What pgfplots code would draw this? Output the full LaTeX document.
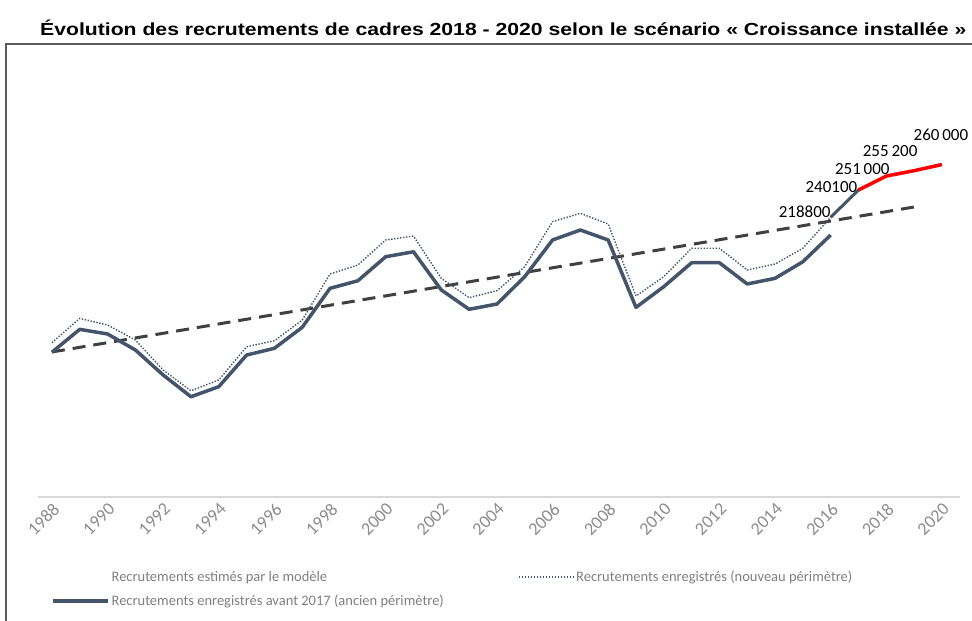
\documentclass[border=0pt]{standalone}
\usepackage{fontspec}
\setmainfont{Carlito}
\newfontfamily\titlefont{Liberation Sans}[FakeStretch=1.21]
\usepackage{pgfplots}
\pgfplotsset{compat=1.18}
\definecolor{slate}{HTML}{44546A}
\definecolor{tickgray}{HTML}{8C8C8C}
\definecolor{leggray}{HTML}{7F7F7F}
\definecolor{dashgray}{HTML}{404040}
\definecolor{framegray}{HTML}{595959}
\definecolor{axgray}{HTML}{D9D9D9}

\pgfplotstableread{
year ancien nouveau
1988 113200 120700
1989 131100 139700
1990 127500 134500
1991 115000 122800
1992 95400 99300
1993 78400 83100
1994 86300 91500
1995 111000 117500
1996 116300 122200
1997 132700 138400
1998 163200 174400
1999 169100 181400
2000 187900 201000
2001 191800 204100
2002 161900 171000
2003 146800 155900
2004 150900 161300
2005 172300 180100
2006 201000 215300
2007 208800 221900
2008 201000 213500
2009 148300 157200
2010 164500 172300
2011 183200 194500
2012 183200 194500
2013 166600 177500
2014 171000 182200
2015 184000 194500
2016 204900 218800
}\histdata

\begin{document}
\begin{tikzpicture}
\path[use as bounding box] (0,0) rectangle (972bp,621bp);
\draw[framegray, line width=1.5bp] (6bp,-2bp) -- (6bp,577bp) -- (980bp,577bp);
\node[anchor=west, inner sep=0, font=\titlefont\bfseries\fontsize{17.5bp}{20bp}\selectfont] at (40bp,593bp) {Évolution des recrutements de cadres 2018 - 2020 selon le scénario « Croissance installée »};
\begin{axis}[
  at={(38bp,124bp)}, anchor=south west, scale only axis,
  width=922bp, height=383.6bp,
  xmin=1987.5, xmax=2020.65, ymin=0, ymax=300000,
  axis y line=none, axis x line*=bottom,
  x axis line style={draw=axgray, line width=1.2bp},
  xtick={1988,1990,1992,1994,1996,1998,2000,2002,2004,2006,2008,2010,2012,2014,2016,2018,2020},
  xticklabels={1988,1990,1992,1994,1996,1998,2000,2002,2004,2006,2008,2010,2012,2014,2016,2018,2020},
  major tick length=0,
  xticklabel style={rotate=45, anchor=north east, inner sep=3.5bp, font=\fontsize{18bp}{20bp}\selectfont, text=tickgray},
  clip=false,
  legend columns=2, legend cell align=left,
  legend style={draw=none, fill=none, at={(0.0108,-0.182)}, anchor=north west,
    font=\fontsize{14.5bp}{16bp}\selectfont, text=leggray, row sep=8bp,
    /tikz/every even column/.append style={column sep=72bp}},
  legend image code/.code={\draw[#1] (0bp,0bp) -- (55bp,0bp);},
]
\addlegendimage{white, opacity=0}
\addlegendentry{Recrutements estimés par le modèle}
\addlegendimage{slate, line width=1.4bp, dash pattern=on 1.4bp off 1.6bp}
\addlegendentry{Recrutements enregistrés (nouveau périmètre)}
\addlegendimage{slate, line width=3.5bp}
\addlegendentry{Recrutements enregistrés avant 2017 (ancien périmètre)}

\addplot[dashgray, line width=3bp, dash pattern=on 13bp off 8bp, forget plot] coordinates {(1988,113400) (2019,226800)};
\addplot[slate, line width=1.4bp, dash pattern=on 1.4bp off 1.6bp, forget plot] table[x=year, y=nouveau] {\histdata};
\addplot[slate, line width=3.5bp, line join=round, forget plot] table[x=year, y=ancien] {\histdata};
\addplot[slate, line width=3bp, forget plot] coordinates {(2016,218800) (2017,240100)};
\addplot[red, line width=3.5bp, line join=round, forget plot] coordinates {(2017,240100) (2018,251000) (2019,255200) (2020,260000)};

\node[anchor=base east, inner sep=0, font=\fontsize{17bp}{19bp}\selectfont] at (axis cs:2016,218800) {218800};
\node[anchor=mid east, inner sep=1bp, font=\fontsize{17bp}{19bp}\selectfont] at (axis cs:2017,240100) {240100};
\node[anchor=base, inner sep=0, xshift=-24bp, yshift=2bp, font=\fontsize{17bp}{19bp}\selectfont] at (axis cs:2018,251000) {251\,000};
\node[anchor=base, inner sep=0, xshift=-24bp, yshift=14bp, font=\fontsize{17bp}{19bp}\selectfont] at (axis cs:2019,255200) {255\,200};
\node[anchor=base, inner sep=0, xshift=-1bp, yshift=24bp, font=\fontsize{17bp}{19bp}\selectfont] at (axis cs:2020,260000) {260\,000};
\end{axis}
\end{tikzpicture}
\end{document}
